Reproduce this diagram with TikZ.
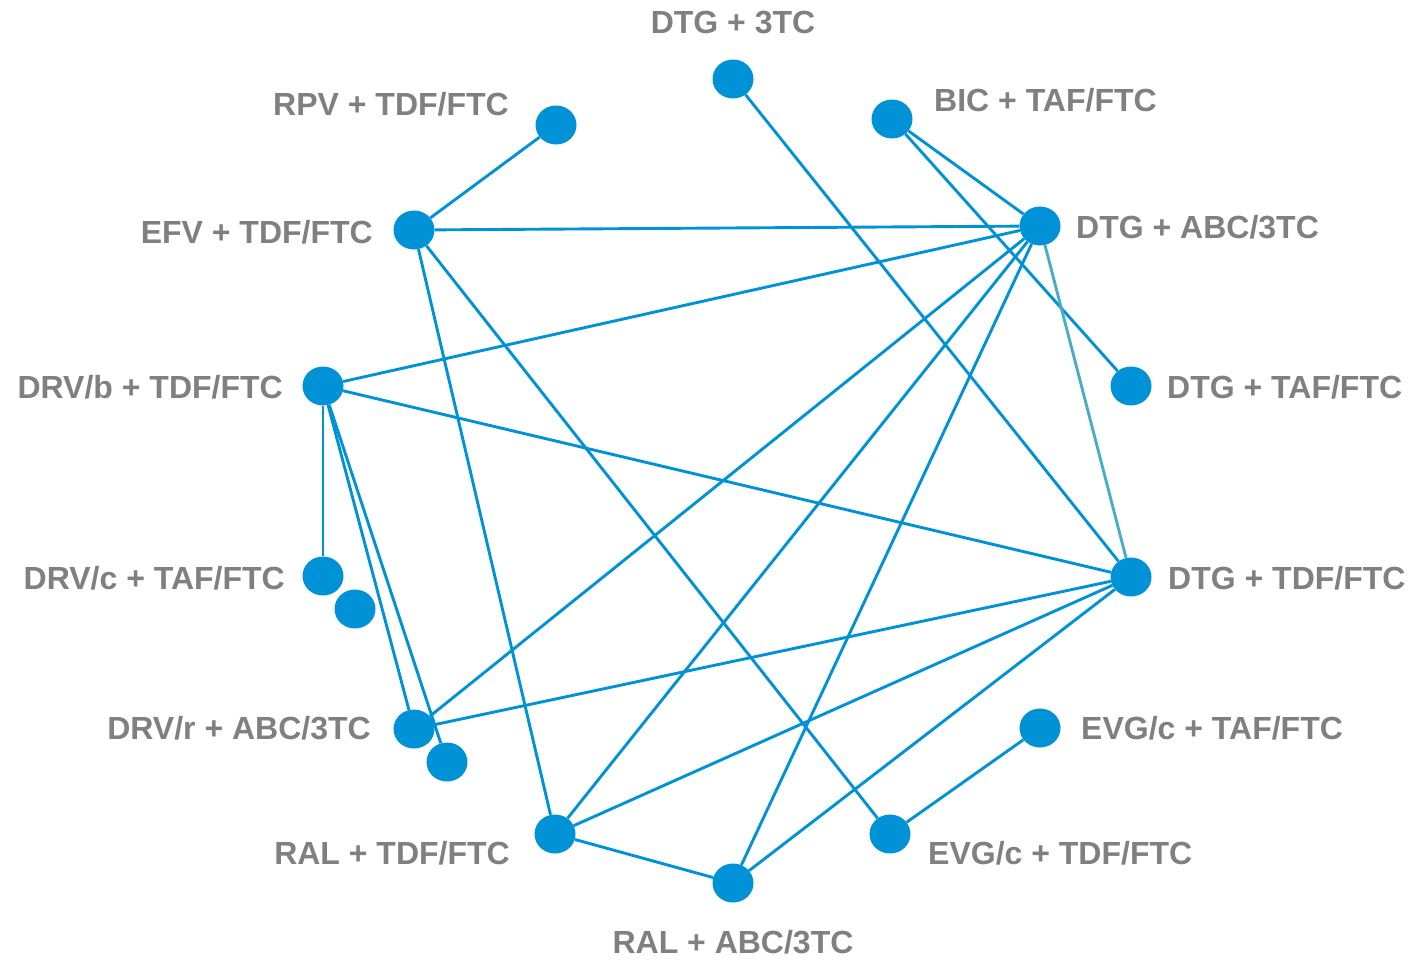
\documentclass[tikz,border=0pt]{standalone}
\usepackage{fontspec}
\setmainfont{Liberation Sans}
\usetikzlibrary{shapes.geometric}
\definecolor{nodeblue}{RGB}{0,146,214}
\definecolor{linkblue}{RGB}{0,146,214}
\definecolor{linkteal}{RGB}{75,172,198}
\definecolor{labelgray}{RGB}{128,128,128}
\begin{document}
\begin{tikzpicture}[x=1pt,y=-1pt,
  drug/.style={ellipse, fill=nodeblue, minimum width=41pt, minimum height=39pt, inner sep=0pt},
  lbl/.style={text=labelgray, font=\fontsize{32}{38}\selectfont\bfseries, inner sep=0pt},
  link/.style={draw=linkblue, line width=2.9pt},
  weak/.style={draw=linkteal, line width=2.9pt}]
\useasboundingbox (0,0) rectangle (1412,959);

% treatment nodes
\node[drug] (dtg3tc)   at (733,79)  {};
\node[drug] (rpv)      at (556,125) {};
\node[drug] (bic)      at (892,119) {};
\node[drug] (efv)      at (414,230) {};
\node[drug] (dtgabc)   at (1040,226) {};
\node[drug] (drvb)     at (323,386) {};
\node[drug] (dtgtaf)   at (1131,386) {};
\node[drug] (drvc)     at (323,576) {};
\node[drug] (drvcx)    at (355,609) {};
\node[drug] (dtgtdf)   at (1131,577) {};
\node[drug] (drvr)     at (414,729) {};
\node[drug] (drvrx)    at (447,762) {};
\node[drug] (evgtaf)   at (1040,728) {};
\node[drug] (raltdf)   at (555,834) {};
\node[drug] (evgtdf)   at (890,834) {};
\node[drug] (ralabc)   at (733,883) {};

% labels
\node[lbl, anchor=base]      (t1)  at (733,33)   {DTG + 3TC};
\node[lbl, anchor=base east] (t2)  at (509,115)  {RPV + TDF/FTC};
\node[lbl, anchor=base west] (t3)  at (934,111)  {BIC + TAF/FTC};
\node[lbl, anchor=base east] (t4)  at (373,243)  {EFV + TDF/FTC};
\node[lbl, anchor=base west] (t5)  at (1076,238) {DTG + ABC/3TC};
\node[lbl, anchor=base east] (t6)  at (283,398)  {DRV/b + TDF/FTC};
\node[lbl, anchor=base west] (t7)  at (1167,398) {DTG + TAF/FTC};
\node[lbl, anchor=base east] (t8)  at (285,589)  {DRV/c + TAF/FTC};
\node[lbl, anchor=base west] (t9)  at (1168,589) {DTG + TDF/FTC};
\node[lbl, anchor=base east] (t10) at (371,739)  {DRV/r + ABC/3TC};
\node[lbl, anchor=base west] (t11) at (1081,739) {EVG/c + TAF/FTC};
\node[lbl, anchor=base east] (t12) at (510,864)  {RAL + TDF/FTC};
\node[lbl, anchor=base west] (t13) at (928,864)  {EVG/c + TDF/FTC};
\node[lbl, anchor=base]      (t14) at (733,953)  {RAL + ABC/3TC};

% comparisons
\draw[link] (rpv) -- (efv);
\draw[link] (efv) -- (dtgabc);
\draw[link] (efv) -- (raltdf);
\draw[link] (efv) -- (evgtdf);
\draw[link] (dtg3tc) -- (dtgtdf);
\draw[link] (bic) -- (dtgabc);
\draw[link] (bic) -- (dtgtaf);
\draw[link] (dtgabc) -- (drvb);
\draw[link] (dtgabc) -- (drvr);
\draw[link] (dtgabc) -- (raltdf);
\draw[link] (dtgabc) -- (ralabc);
\draw[weak] (dtgabc) -- (dtgtdf);
\draw[link] (drvb) -- (dtgtdf);
\draw[link] (drvb) -- (drvc);
\draw[link] (drvb) -- (drvr);
\draw[link] (drvb) -- (drvrx);
\draw[link] (dtgtdf) -- (drvr);
\draw[link] (dtgtdf) -- (raltdf);
\draw[link] (dtgtdf) -- (ralabc);
\draw[link] (raltdf) -- (ralabc);
\draw[link] (evgtaf) -- (evgtdf);
\end{tikzpicture}
\end{document}
